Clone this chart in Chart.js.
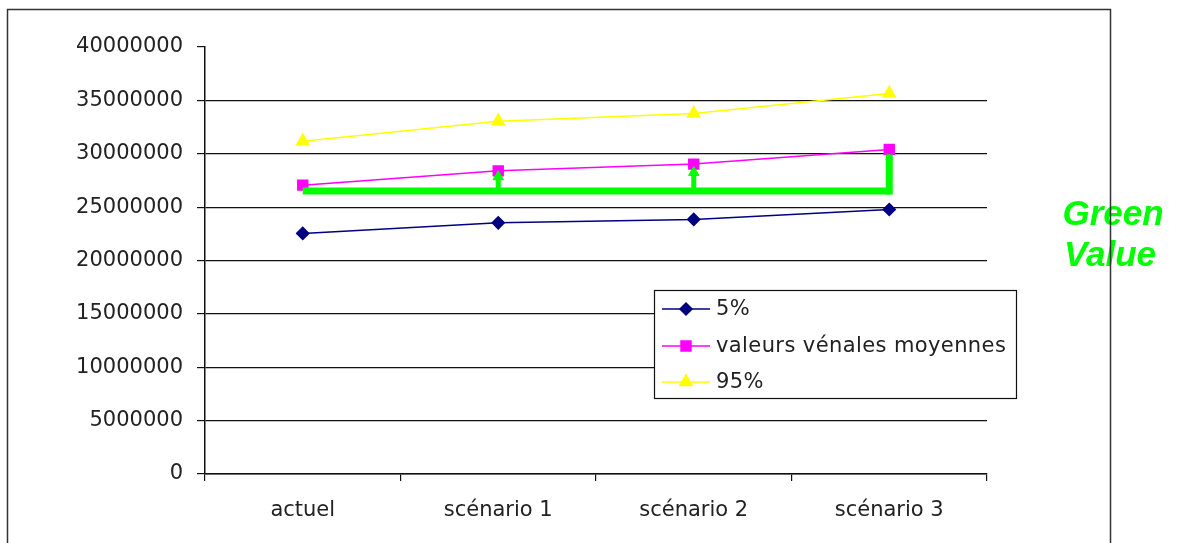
<!DOCTYPE html>
<html>
<head>
<meta charset="utf-8">
<script src="https://cdn.jsdelivr.net/npm/chart.js@4/dist/chart.umd.min.js"></script>
<style>
  html, body { margin: 0; padding: 0; background: #ffffff; }
  #wrap { position: relative; width: 1177px; height: 543px; }
  canvas { display: block; }
</style>
</head>
<body>
<div id="wrap"><canvas id="chart" width="1177" height="543"></canvas></div>
<script>
// Categories and series
const categories = ['actuel', 'scénario 1', 'scénario 2', 'scénario 3'];
const seriesLabels = ['5%', 'valeurs vénales moyennes', '95%'];
const p5 = [22540000, 23530000, 23850000, 24780000];
const moyennes = [27060000, 28400000, 29030000, 30400000];
const p95 = [31180000, 33050000, 33770000, 35650000];

// Green reference level and the arrows rising from it
const greenLevel = 26500000;
const arrowCategories = ['scénario 1', 'scénario 2', 'scénario 3'];
const arrowTops = [27850000, 28250000, 29600000];
const annotationLines = ['Green', 'Value'];

// Value axis
const yTickValues = [0, 5000000, 10000000, 15000000, 20000000, 25000000, 30000000, 35000000, 40000000];

const GREEN = '#00ff00';
const TEXT = '#222222';
const FONT = '"DejaVu Sans", sans-serif';

const datasets = [
  {
    label: seriesLabels[0], data: p5, order: 3,
    borderColor: '#000080', backgroundColor: '#000080', borderWidth: 1.5,
    pointStyle: 'rectRot', pointRadius: 6, pointHoverRadius: 6
  },
  {
    label: seriesLabels[1], data: moyennes, order: 2,
    borderColor: '#ff00ff', backgroundColor: '#ff00ff', borderWidth: 1.5,
    pointStyle: 'rect', pointRadius: 7, pointHoverRadius: 7
  },
  {
    label: seriesLabels[2], data: p95, order: 4,
    borderColor: '#ffff00', backgroundColor: '#ffff00', borderWidth: 1.5,
    pointStyle: 'triangle', pointRadius: 7, pointHoverRadius: 7
  },
  {
    label: '', data: [
      { x: categories[0], y: greenLevel },
      { x: categories[3], y: greenLevel }
    ],
    order: 0, borderColor: GREEN, backgroundColor: GREEN, borderWidth: 7,
    pointRadius: 0, borderCapStyle: 'butt'
  }
];

arrowCategories.forEach((cat, i) => {
  const last = i === arrowCategories.length - 1;
  datasets.push({
    label: '', data: [{ x: cat, y: greenLevel }, { x: cat, y: arrowTops[i] }],
    order: 0, borderColor: GREEN, backgroundColor: GREEN,
    borderWidth: last ? 7 : 5, borderCapStyle: last ? 'square' : 'butt',
    pointStyle: 'triangle', pointRadius: [0, last ? 4 : 6], pointHoverRadius: [0, 6],
    pointBorderWidth: 1
  });
});

// Boxed legend placed inside the plot area
const boxLegend = {
  id: 'boxLegend',
  afterDatasetsDraw(chart) {
    const ctx = chart.ctx;
    const x0 = 654, y0 = 290, w = 362, h = 108;
    ctx.save();
    ctx.fillStyle = '#ffffff';
    ctx.fillRect(x0, y0, w, h);
    ctx.strokeStyle = '#111111';
    ctx.lineWidth = 1.2;
    ctx.strokeRect(x0 + 0.5, y0 + 0.5, w, h);
    const rows = [309, 346, 382];
    chart.data.datasets.slice(0, 3).forEach((ds, i) => {
      const y = rows[i];
      ctx.strokeStyle = ds.borderColor;
      ctx.lineWidth = 1.5;
      ctx.beginPath();
      ctx.moveTo(662, y);
      ctx.lineTo(710, y);
      ctx.stroke();
      ctx.fillStyle = ds.backgroundColor;
      ctx.strokeStyle = ds.borderColor;
      Chart.helpers.drawPoint(ctx, { pointStyle: ds.pointStyle, radius: ds.pointRadius, rotation: 0, borderWidth: 1 }, 686, y);
      ctx.fillStyle = TEXT;
      ctx.font = '21px ' + FONT;
      ctx.textBaseline = 'middle';
      ctx.textAlign = 'left';
      if ('letterSpacing' in ctx) ctx.letterSpacing = '0.4px';
      ctx.fillText(ds.label, 716, y + 1);
    });
    ctx.restore();
  }
};

// Outer frame and the side annotation
const frame = {
  id: 'frame',
  afterDraw(chart) {
    const ctx = chart.ctx;
    ctx.save();
    ctx.fillStyle = GREEN;
    ctx.font = 'italic bold 35px "Liberation Sans", Arial, sans-serif';
    ctx.textAlign = 'center';
    ctx.textBaseline = 'alphabetic';
    ctx.fillText(annotationLines[0], 1113, 225);
    ctx.fillText(annotationLines[1], 1110, 266);
    ctx.strokeStyle = '#333333';
    ctx.lineWidth = 1.5;
    ctx.beginPath();
    ctx.moveTo(7.5, 560);
    ctx.lineTo(7.5, 9.5);
    ctx.lineTo(1110.5, 9.5);
    ctx.lineTo(1110.5, 560);
    ctx.stroke();
    ctx.restore();
  }
};

new Chart(document.getElementById('chart'), {
  type: 'line',
  data: { labels: categories, datasets },
  options: {
    responsive: false,
    devicePixelRatio: 1,
    animation: false,
    events: [],
    layout: { padding: { left: 0, top: 47, right: 190, bottom: 0 } },
    plugins: { legend: { display: false }, tooltip: { enabled: false } },
    elements: { line: { tension: 0 } },
    scales: {
      x: {
        type: 'category',
        offset: true,
        afterFit(scale) { scale.height = 69; },
        grid: {
          offset: true, drawOnChartArea: false, tickLength: 7,
          color: '#111111', tickColor: '#111111', lineWidth: 1.2
        },
        border: { display: true, color: '#111111', width: 1.5 },
        ticks: { color: TEXT, font: { family: FONT, size: 21 }, padding: 17, maxRotation: 0 }
      },
      y: {
        min: 0, max: 40000000,
        afterFit(scale) { scale.width = 205; },
        afterBuildTicks(scale) { scale.ticks = yTickValues.map(v => ({ value: v })); },
        grid: {
          tickLength: 8, lineWidth: 1.2,
          color: ctx => (ctx.tick && ctx.tick.value === 40000000) ? 'rgba(0,0,0,0)' : '#111111',
          tickColor: '#111111'
        },
        border: { display: true, color: '#111111', width: 1.5 },
        ticks: {
          color: TEXT, font: { family: FONT, size: 21 }, padding: 14,
          callback: v => String(v)
        }
      }
    }
  },
  plugins: [boxLegend, frame]
});
</script>
</body>
</html>
